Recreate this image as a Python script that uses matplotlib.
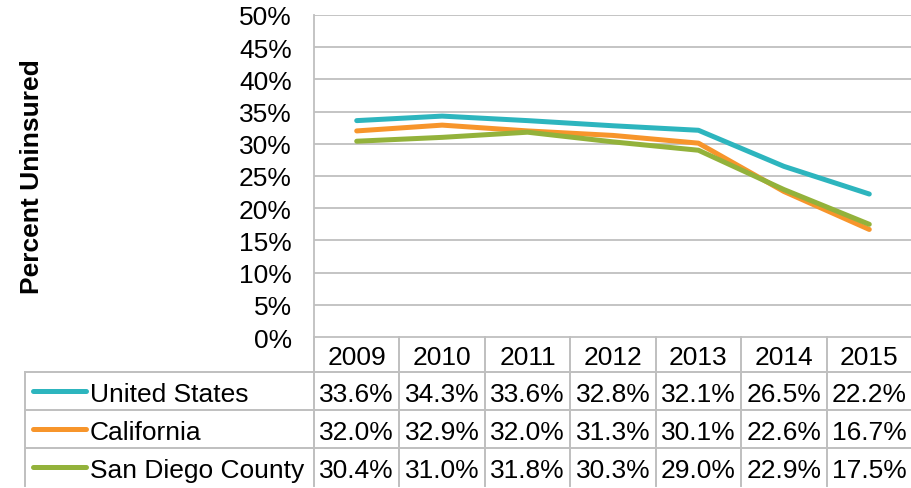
import matplotlib
matplotlib.use('Agg')
import matplotlib.pyplot as plt
from matplotlib.lines import Line2D

plt.rcParams['font.family'] = ['Liberation Sans', 'DejaVu Sans']

# data
years = ['2009', '2010', '2011', '2012', '2013', '2014', '2015']
us = [33.6, 34.3, 33.6, 32.8, 32.1, 26.5, 22.2]
ca = [32.0, 32.9, 32.0, 31.3, 30.1, 22.6, 16.7]
sd = [30.4, 31.0, 31.8, 30.3, 29.0, 22.9, 17.5]
names = ['United States', 'California', 'San Diego County']
colors = ['#2DB5BE', '#F7952B', '#93B23B']
series = [us, ca, sd]

W, H = 912, 489
FS = 19
fig = plt.figure(figsize=(W / 100, H / 100), dpi=100)

def fx(px):
    return px / W

def fy(py):
    return 1 - py / H

grid_c = '#BFBFBF'
left, right, top, bottom = 314, 912, 16, 338
ax = fig.add_axes([fx(left), fy(bottom), fx(right - left), (bottom - top) / H])

x = list(range(len(years)))
for vals, c in zip(series, colors):
    ax.plot(x, vals, color=c, lw=3.6, solid_capstyle='round', zorder=3)

ax.set_xlim(-0.5, len(years) - 0.5)
ax.set_ylim(0, 50)
ax.set_yticks(range(0, 51, 5))
ax.set_yticklabels(['{}%'.format(v) for v in range(0, 51, 5)], fontsize=FS)
ax.tick_params(axis='y', length=0, pad=16)
ax.set_xticks([])
for v in range(5, 51, 5):
    ax.axhline(v, color=grid_c, lw=1.3, zorder=1)
for s in ['top', 'right']:
    ax.spines[s].set_visible(False)
ax.spines['left'].set_color(grid_c)
ax.spines['bottom'].set_color(grid_c)
ax.spines['left'].set_linewidth(1.3)
ax.spines['bottom'].set_linewidth(1.3)

fig.text(fx(32), fy(177), 'Percent Uninsured', rotation=90, fontsize=FS,
         fontweight='bold', ha='center', va='center')

# data table
col_w = (right - left) / len(years)
row_edges = [338, 373, 411, 449, 487]
tbl_left = 25
dy = 3  # nudge text to visual centre of cells

def hline(x0, x1, y):
    fig.add_artist(Line2D([fx(x0), fx(x1)], [fy(y), fy(y)], color=grid_c, lw=1.4))

def vline(xp, y0, y1):
    fig.add_artist(Line2D([fx(xp), fx(xp)], [fy(y0), fy(y1)], color=grid_c, lw=1.4))

for i in range(len(years) + 1):
    vline(left + i * col_w, row_edges[0], row_edges[-1])
vline(tbl_left, row_edges[1], row_edges[-1])
hline(tbl_left, right, row_edges[1])
hline(tbl_left, right, row_edges[2])
hline(tbl_left, right, row_edges[3])

for i, yr in enumerate(years):
    cx = left + (i + 0.5) * col_w
    fig.text(fx(cx), fy((row_edges[0] + row_edges[1]) / 2 + dy), yr, fontsize=FS,
             ha='center', va='center')

for r, (nm, vals, c) in enumerate(zip(names, series, colors)):
    cy = (row_edges[r + 1] + row_edges[r + 2]) / 2
    fig.add_artist(Line2D([fx(33), fx(86)], [fy(cy), fy(cy)], color=c, lw=3.6,
                          solid_capstyle='round'))
    fig.text(fx(90), fy(cy + dy), nm, fontsize=FS, ha='left', va='center')
    for i, v in enumerate(vals):
        cx = left + (i + 0.5) * col_w
        fig.text(fx(cx), fy(cy + dy), '{:.1f}%'.format(v), fontsize=FS,
                 ha='center', va='center')

fig.savefig('out.png', dpi=100)
